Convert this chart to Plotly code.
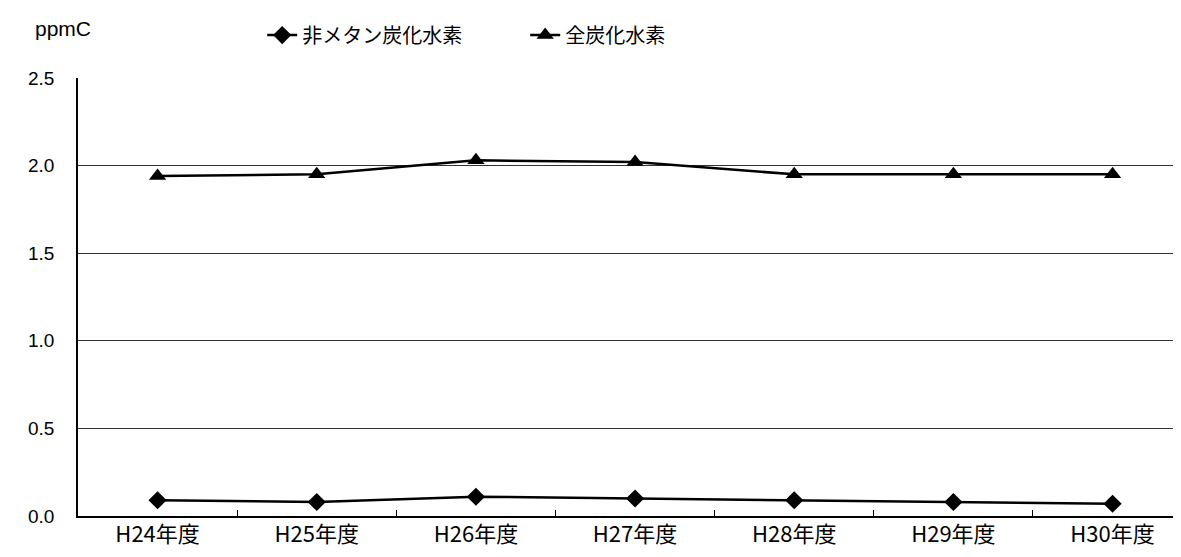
import plotly.graph_objects as go

categories = ["H24年度", "H25年度", "H26年度", "H27年度", "H28年度", "H29年度", "H30年度"]
nmhc = [0.09, 0.08, 0.11, 0.10, 0.09, 0.08, 0.07]
thc = [1.94, 1.95, 2.03, 2.02, 1.95, 1.95, 1.95]
y_ticks = [0.0, 0.5, 1.0, 1.5, 2.0, 2.5]
y_labels = ["0.0", "0.5", "1.0", "1.5", "2.0", "2.5"]

JP = "Noto Sans CJK JP, sans-serif"
AR = "Liberation Sans, Arial, sans-serif"

fig = go.Figure()
fig.add_trace(go.Scatter(
    x=categories, y=nmhc, name="非メタン炭化水素", mode="lines+markers",
    line=dict(color="black", width=2.5),
    marker=dict(symbol="diamond", size=14, color="black"),
))
fig.add_trace(go.Scatter(
    x=categories, y=thc, name="全炭化水素", mode="lines+markers",
    line=dict(color="black", width=2.5),
    marker=dict(symbol="triangle-up", size=15, color="black"),
))

# page body has an 8px default margin, so the figure is 8px smaller
fig.update_layout(
    width=1173, height=549,
    margin=dict(l=70, r=0, t=70, b=41, autoexpand=False),
    paper_bgcolor="white", plot_bgcolor="white",
    font=dict(family=JP, size=18, color="black"),
    showlegend=True,
    legend=dict(orientation="h", x=0.167, y=1.098, xanchor="left", yanchor="middle",
                font=dict(size=20, family=JP), entrywidth=218, entrywidthmode="pixels",
                tracegroupgap=0, bgcolor="rgba(0,0,0,0)"),
    xaxis=dict(
        type="category", range=[-0.5, 6.43],
        showline=True, linecolor="black", linewidth=1.5,
        ticks="inside", ticklen=6, tickcolor="black", tickson="boundaries",
        showgrid=False, tickfont=dict(size=22, family=JP), ticklabelstandoff=-2,
    ),
    yaxis=dict(
        range=[0, 2.5], tickvals=y_ticks, ticktext=y_labels,
        showline=True, linecolor="black", linewidth=1.5,
        showgrid=True, gridcolor="#333333", gridwidth=1,
        zeroline=False, ticks="", tickfont=dict(size=19, family=AR), ticklabelstandoff=18,
    ),
    annotations=[dict(text="ppmC", x=-0.041, y=1.114, xref="paper", yref="paper",
                      showarrow=False, xanchor="left", yanchor="middle",
                      font=dict(size=21, family=AR))],
)

fig.write_html("out.html")
